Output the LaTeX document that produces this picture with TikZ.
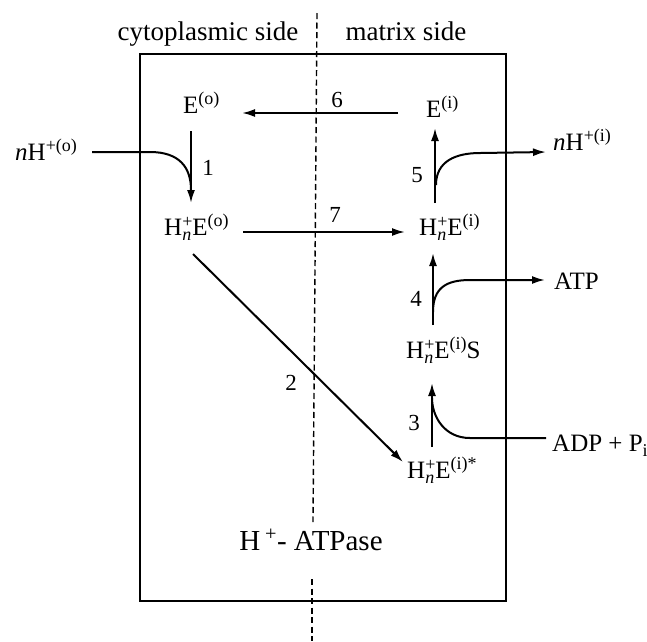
\documentclass[tikz,border=0pt]{standalone}
\usepackage{fontspec}
\setmainfont{Liberation Serif}
\usetikzlibrary{arrows.meta,calc}
\newcommand\szS{\fontsize{18}{18}\selectfont}
\newcommand\sups[1]{\raisebox{8.5pt}{\szS #1}}
\newcommand\Hn{H\makebox[10pt][l]{\makebox[0pt][l]{\raisebox{8pt}{\szS +}}\raisebox{-5pt}{\szS\itshape n}}}
\begin{document}
\begin{tikzpicture}[x=1pt,y=-1pt,
  txt/.style={inner sep=2pt, font=\fontsize{25}{30}\selectfont, anchor=base west},
  hdr/.style={inner sep=0pt, font=\fontsize{27}{32}\selectfont, anchor=base},
  num/.style={inner sep=0pt, font=\fontsize{23}{28}\selectfont},
  arr/.style={line width=2pt, -{Latex[length=13pt,width=8pt]}},
  ln/.style={line width=2pt},
  memb/.style={line width=1.4pt, dash pattern=on 6pt off 3.5pt}]
\useasboundingbox (0,0) rectangle (647,641);
% box
\node[draw, line width=2pt, minimum width=366pt, minimum height=547pt, inner sep=0pt, anchor=north west] (box) at (139,53) {};
% membrane
\coordinate (mtop) at (317,13);
\coordinate (mgapA) at (313,522);
\coordinate (mgapB) at (312,579);
\coordinate (mbot) at (312,641);
\draw[memb] (mtop) -- (mgapA);
\draw[memb] (mgapB) -- (mbot);
% headers
\node[hdr] (cyto) at (208,40) {cytoplasmic side};
\node[hdr] (matr) at (406,40) {matrix side};
\node[inner sep=0pt, font=\fontsize{29}{34}\selectfont, anchor=base] (atpase) at (311,550) {H\,\textsuperscript{+}- ATPase};
% species
\node[txt] (E0) at (181,113) {E\sups{(o)}};
\node[txt] (E1) at (424,117) {E\sups{(i)}};
\node[txt] (HE0) at (162,235) {\Hn E\sups{(o)}};
\node[txt] (HE1) at (417,235) {\Hn E\sups{(i)}};
\node[txt] (HES) at (404,358) {\Hn E\sups{(i)}S};
\node[txt] (HEs) at (405,478) {\Hn E\sups{(i)*}};
\node[txt] (nHo) at (13,160) {\textit{n}H\sups{+(o)}};
\node[txt] (nHi) at (551,150) {\textit{n}H\sups{+(i)}};
\node[txt] (ATP) at (552,289) {ATP};
\node[txt] (ADP) at (550,451) {ADP + P\raisebox{-5pt}{\szS i}};
% step numbers
\node[num] (n1) at (208,168) {1};
\node[num] (n2) at (291,383) {2};
\node[num] (n3) at (414,423) {3};
\node[num] (n4) at (416,299) {4};
\node[num] (n5) at (417,175) {5};
\node[num] (n6) at (337,100) {6};
\node[num] (n7) at (335,215) {7};
% step 1
\draw[arr] ($(E0.base west)+(10,18)$) -- ($(HE0.base west)+(29,-32)$);
\draw[ln] ($(nHo.base west)+(79,-8)$) -- ++(58,0) .. controls +(30,0) and +(0,-22) .. ($(HE0.base west)+(29,-45)$);
% step 6
\draw[arr] ($(E1.base west)+(-26,-4)$) -- ($(E0.base west)+(61,0)$);
% step 7
\draw[arr] ($(HE0.base west)+(81,-3)$) -- ($(HE1.base west)+(-12,-3)$);
% step 2
\draw[arr] ($(HE0.base west)+(31,19)$) -- ($(HEs.base west)+(-2,-16)$);
% step 5
\draw[arr] ($(HE1.base west)+(18,-32)$) -- ($(E1.base west)+(11,11)$);
\draw[arr] ($(HE1.base west)+(19,-50)$) .. controls +(0,-24) and +(-24,0) .. ++(44,-32) -- ($(nHi.base west)+(-5,2)$);
% step 4
\draw[arr] ($(HES.base west)+(29,-33)$) -- ($(HE1.base west)+(16,18)$);
\draw[arr] ($(HES.base west)+(29,-46)$) .. controls +(0,-24) and +(-24,0) .. ++(37,-32) -- ($(ATP.base west)+(-7,-9)$);
% step 3
\draw[arr] ($(HEs.base west)+(27,-31)$) -- ($(HES.base west)+(28,25)$);
\draw[ln] ($(ADP.base west)+(-4,-13)$) -- ++(-76,0) .. controls +(-26,0) and +(0,18) .. ($(HES.base west)+(28,40)$);
\end{tikzpicture}
\end{document}
